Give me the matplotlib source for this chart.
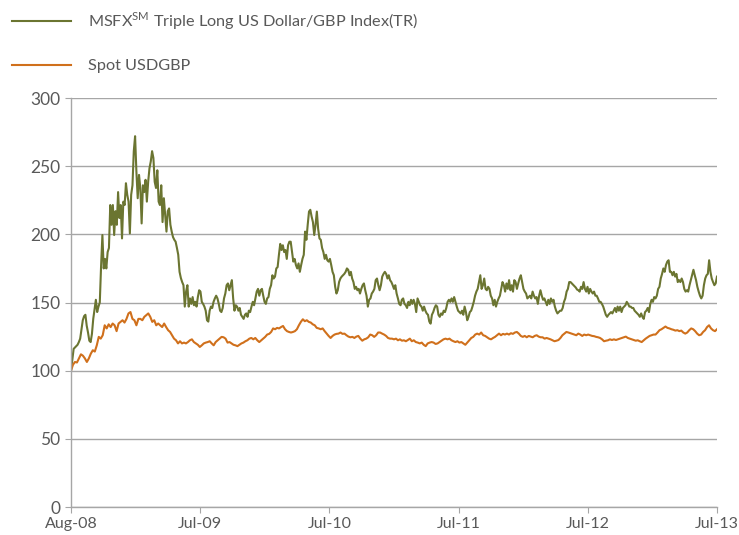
import numpy as np
import matplotlib
matplotlib.use('Agg')
import matplotlib.pyplot as plt

# values, evenly spaced from Aug-08 to Jul-13
triple_long = [
    100, 108, 116, 117, 118, 119, 121, 123.5, 130, 137, 140, 141, 133, 128, 122, 121,
    127, 138, 145, 152, 143, 147, 150,
    177, 199.5, 175, 182, 175, 187, 190, 221.5, 207, 221.5, 199.5, 217, 207, 231, 212,
    221.5, 197, 224, 221.5, 237.5, 229, 224, 200.7, 229, 236, 261, 272, 246, 226.5,
    243.6, 234, 208, 236, 231, 240, 224, 238.5, 248.5, 253.5, 261, 256, 238.5, 234,
    247, 224, 221.5, 236, 209, 226.5, 214, 202, 217, 219, 207, 202, 198, 196, 194.6,
    190, 185, 172.5, 168, 165,
    # Jan-09 onward
    162.7, 147, 158, 162.7, 147, 153, 149, 154, 148, 150.5, 147, 154, 159, 158, 150.5,
    149, 147, 144, 137, 136, 144, 147, 146, 150.5, 153, 155, 153, 149, 144, 143, 146,
    153, 156.6, 162.7, 164, 159, 162.7, 166.4, 153, 144, 148, 147, 144, 146, 141,
    139.5, 138, 141, 142, 139.5, 144, 143, 147, 150.5, 148, 153, 158, 160, 155, 159,
    160, 155, 150.5, 149, 153, 154, 160, 162.7, 170, 167.6, 169, 175, 176, 185, 193,
    188.5, 192, 187, 188.5, 182, 192, 194.6,
    194.6, 187, 180, 182, 177.5, 175, 178.7, 172.5, 177.5, 182, 185, 202, 196, 207,
    216.7, 218, 213, 209, 199.5, 207, 216.7, 204, 197, 196, 190, 187, 182, 185, 181,
    180, 182, 177.5, 172.5, 170, 161.5, 156.6, 159, 165, 167.6, 169, 170, 171, 172.5,
    175, 174, 170, 172.5, 167.6, 165, 160, 161.5, 159, 160, 156.6, 160, 162.7, 164,
    159, 155, 147, 152, 153, 156.6, 158, 160, 166.4, 167.6, 162.7, 159, 162.7, 169,
    171, 172.5, 171, 167.6, 170, 166.4, 165, 162.7, 160, 162.7,
    156.6, 153, 149, 148, 152, 153, 149, 148, 146, 150.5, 148, 152, 149, 152, 149, 143,
    153, 150.5, 148, 147, 144, 147, 144, 142, 141, 136, 134.5, 141, 143, 146, 148,
    147, 141, 139.5, 142, 141, 144, 143, 146, 150.5, 152, 150.5, 153, 150.5, 154,
    150.5, 147, 144, 143, 142, 144, 141, 147, 143, 137, 139.5, 143, 144, 147, 150.5,
    155, 158, 160, 165, 170, 160, 162.7, 167.6, 160, 159, 161.5, 160, 155, 153, 148,
    152, 147, 150.5, 153, 155, 160,
    165, 162.7, 158, 164, 160, 166.4, 159, 162.7, 158, 166.4, 165, 160, 164, 167.6,
    170, 165, 160, 158, 156.6, 153, 154, 155, 153, 158, 155, 153, 154, 149, 155, 159,
    155, 152, 153, 150.5, 148, 152, 149, 153, 150.5, 152, 147, 144, 142, 143, 144, 144,
    146, 150.5, 153, 158, 160, 165, 165, 164, 163, 162, 161, 159.5, 159, 158, 161.5,
    160, 165, 160, 158, 161.5, 156.6, 160, 158, 156.6, 158, 155, 155, 153, 150.5,
    150.5, 149, 147, 144, 141, 139.5,
    141, 142, 143, 142, 144, 146, 143, 147, 144, 147, 143, 146, 147, 148, 150.5, 149,
    147, 147, 146, 146, 144, 143, 142, 141, 139.5, 142, 139.5, 138, 143, 144, 146, 143,
    149, 152, 150.5, 154, 153, 155, 160, 161.5, 167.6, 171, 175, 172.5, 177.5, 180,
    181, 172.5, 172.5, 170, 172.5, 169, 171, 165, 166.4, 165, 167.6, 165, 160, 158,
    159, 158, 162.7, 166.4, 170, 174, 170, 166.4, 161.5, 158, 155, 153, 155, 162.7,
    167.6, 170, 171, 181, 172.5, 167.6, 165, 162.7, 164, 169,
]

spot_usdgbp = [
    100, 104.4, 106.4, 106, 109, 112, 111, 109, 106.4, 109, 112.5, 115, 114, 118.6,
    124.8, 123.5, 126, 133.3, 131, 134, 132, 134.6, 133.3, 129, 134.6, 135.8, 137,
    135.3, 138, 142, 143, 138, 137, 133.3, 138, 138, 137, 139.5, 140.7, 142, 139.5,
    135.8, 137, 133.3, 134.6, 133.3, 132, 134.6, 132, 129.7, 128.4, 126, 123.5, 122.3,
    120, 121.6, 120, 120.6, 120, 121, 122.3, 123, 121, 120, 119, 117.4, 118.6, 120,
    120.6, 121, 121.6, 120, 118.6, 121, 122.3, 123.5, 124.8, 124.5, 123.5, 120.6, 121,
    120, 119, 118.6, 118, 119, 120, 120.6, 121.6, 122.3, 123.5, 124, 123, 124, 122.3,
    121, 122.3, 123.5, 124.8, 126.5, 127, 128.4, 131, 130.4, 131.4, 131, 132, 132.8,
    130.4, 129, 128.4, 128, 128.4, 129, 130.4, 133.3, 135.8, 137.7, 136.3, 137, 135.8,
    135.3, 134, 133.3, 131.4, 131, 130.4, 131, 129, 127.2, 125.5, 124, 125.5, 126.5,
    127, 127.2, 128, 127, 127.2, 126, 125, 124.5, 124.8, 124, 125, 125.5, 123.5, 122,
    123, 123.5, 124.5, 126.5, 126, 124.8, 126, 128, 128, 127.2, 126.5, 125.5, 124,
    123.5,
    123.5, 123, 123.5, 122.3, 123, 122, 122.3, 121.6, 122.5, 123.5, 121.6, 122.3, 121,
    120.6, 120, 120.6, 119, 118, 120, 120.6, 121, 120.6, 119.6, 120, 121, 122, 123,
    123.5, 123, 123.5, 122.3, 121.6, 121, 121.6, 120.6, 121, 120, 119, 120.6, 122.3,
    124, 124.8, 126.5, 127.2, 126.5, 128, 126, 125.5, 124.5, 123.5, 123, 124, 124.8,
    126,
    127.2, 126, 127, 126.5, 127.2, 126.5, 127.5, 127, 128, 128.4, 127.2, 125.5, 124.8,
    125.5, 124.5, 125.5, 125, 124.5, 125.5, 126, 125, 124.5, 124.5, 123.5, 124, 123.5,
    123, 122.3, 121.6, 122, 122.5, 124, 126, 127.2, 128.4, 128, 127.5, 127, 126.5, 126,
    127.2, 126.5, 125.5, 126.5, 126, 126.5, 126, 125.5, 125.3, 124.8, 124.5, 124, 123,
    121.6,
    122, 122.3, 123, 122.5, 123, 122.5, 123, 123.5, 124, 124.5, 125, 124, 123.5, 123,
    122.5, 122, 122.3, 121.6, 121, 122.3, 123.5, 124.5, 125.5, 126, 126.5, 126.5, 128,
    129.7, 130.4, 131.4, 132.4, 131.4, 131, 130.4, 130, 129.4, 129.7, 129, 129.4, 128,
    127.2, 128, 129.7, 131, 130.4, 129, 127.2, 126, 126.5, 128.4, 129.7, 132, 133.3,
    131, 129.7, 129, 130.4,
]

tick_labels = ['Aug-08', 'Jul-09', 'Jul-10', 'Jul-11', 'Jul-12', 'Jul-13']
series_names = [r'MSFX$^{\mathregular{SM}}$ Triple Long US Dollar/GBP Index(TR)', 'Spot USDGBP']
series_colors = ['#6b7531', '#d0701c']

plt.rcParams['font.family'] = ['Lato', 'DejaVu Sans']
text_grey = '#595959'
grid_grey = '#a6a6a6'

fig = plt.figure(figsize=(7.39, 5.35), dpi=100)
ax = fig.add_axes([0.0961, 0.0523, 0.8741, 0.7645])

for vals, name, col in zip([triple_long, spot_usdgbp], series_names, series_colors):
    x = np.linspace(0, 1, len(vals))
    ax.plot(x, vals, color=col, lw=1.5, label=name)

ax.set_xlim(0, 1)
ax.set_ylim(0, 300)
ax.set_yticks(np.arange(0, 301, 50))
ax.set_xticks(np.linspace(0, 1, len(tick_labels)))
ax.set_xticklabels(tick_labels)
ax.yaxis.grid(True, color=grid_grey, lw=1)
ax.set_axisbelow(True)
for s in ['top', 'right']:
    ax.spines[s].set_visible(False)
for s in ['left', 'bottom']:
    ax.spines[s].set_color(grid_grey)
    ax.spines[s].set_linewidth(1)
ax.tick_params(axis='both', colors=grid_grey, labelcolor=text_grey, length=4)
ax.tick_params(axis='y', labelsize=12.5)
ax.tick_params(axis='x', labelsize=11.5, pad=3)

leg = fig.legend(loc='upper left', bbox_to_anchor=(12 / 739, 0.98), frameon=False,
                 borderpad=0, borderaxespad=0, labelspacing=1.65,
                 handlelength=3.65, handletextpad=1.05, fontsize=11.7)
for t in leg.get_texts():
    t.set_color(text_grey)

fig.savefig('out.png', dpi=100)
